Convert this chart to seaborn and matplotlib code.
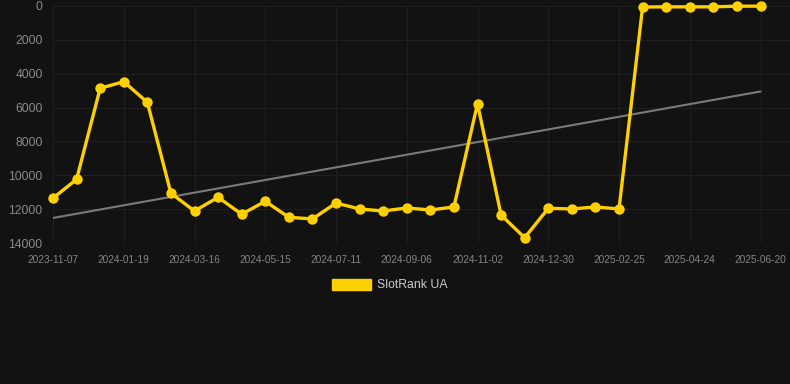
import numpy as np
import pandas as pd
import matplotlib
matplotlib.use("Agg")
import matplotlib.pyplot as plt
import seaborn as sns
from matplotlib.patches import Patch

# rank values (lower = better, axis is inverted)
ranks = [11350, 10240, 4860, 4470, 5690, 11060, 12110, 11300, 12300, 11540,
         12480, 12580, 11640, 11990, 12110, 11930, 12050, 11870, 5770, 12350,
         13690, 11950, 11990, 11870, 11990, 60, 50, 50, 50, 10, 10]
tick_labels = ["2023-11-07", "2024-01-19", "2024-03-16", "2024-05-15", "2024-07-11",
               "2024-09-06", "2024-11-02", "2024-12-30", "2025-02-25", "2025-04-24",
               "2025-06-20"]
trend = [12520, 5050]
y_ticks = [0, 2000, 4000, 6000, 8000, 10000, 12000, 14000]

df = pd.DataFrame({"idx": np.arange(len(ranks)), "rank": ranks})

bg = "#121212"
sns.set_style("dark")
plt.rcParams["font.family"] = ["Liberation Sans", "DejaVu Sans"]

fig = plt.figure(figsize=(7.9, 3.84), dpi=100, facecolor=bg)
ax = fig.add_axes([53 / 790, 1 - 243 / 384, 1 - 53 / 790, (243 - 6) / 384])
ax.set_facecolor(bg)

# trend line
ax.plot([0, len(ranks) - 1], trend, color="#7a7a7a", lw=1.5, zorder=2)

sns.lineplot(data=df, x="idx", y="rank", color="#FFD000", lw=2.4, marker="o",
             markersize=7.5, markeredgewidth=0, ax=ax, zorder=3, clip_on=False)

ax.set_xlim(0, 31.25)
ax.set_ylim(14000, 0)
ax.set_xticks(np.arange(0, len(ranks), 3))
ax.set_xticklabels(tick_labels)
ax.set_yticks(y_ticks)
ax.set_yticklabels([str(v) for v in y_ticks])
ax.tick_params(axis="x", colors="#858585", labelsize=7.3, length=0, pad=8.5)
ax.tick_params(axis="y", colors="#8a8a8a", labelsize=8.7, length=0, pad=7.5)
ax.grid(True, color="#1f1f1f", lw=0.8)
for s in ax.spines.values():
    s.set_visible(False)
ax.set_xlabel("")
ax.set_ylabel("")

handles = [Patch(facecolor="#FFD000", edgecolor="#FFD000")]
leg = fig.legend(handles, ["SlotRank UA"], loc="center", bbox_to_anchor=(390 / 790, 1 - 285 / 384),
                 frameon=False, fontsize=8.8, handlelength=3.2, handleheight=1.0,
                 handletextpad=0.5, labelcolor="#cccccc")

fig.savefig("out.png", dpi=100, facecolor=bg)
